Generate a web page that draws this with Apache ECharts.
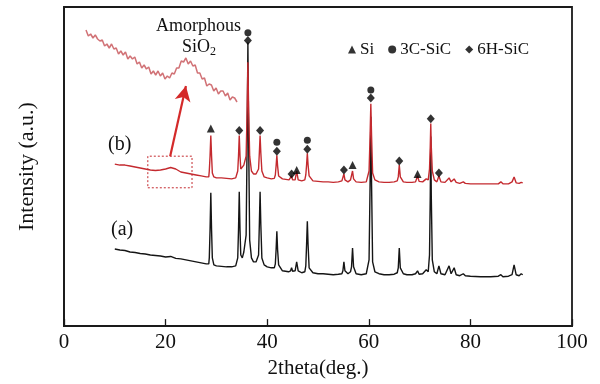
<!DOCTYPE html>
<html>
<head>
<meta charset="utf-8">
<script src="https://cdn.jsdelivr.net/npm/echarts@6/dist/echarts.min.js"></script>
<style>html,body{margin:0;padding:0;background:#fff}#c{width:600px;height:384px}</style>
</head>
<body>
<div id="c"></div>
<script>
// x ticks
const xTicks = [0, 20, 40, 60, 80, 100];

// Pattern (a) – black, [2theta, intensity]
const patternA = [
[10,81],[11,80],[12,79.5],[13,78],[14,77.5],[15,76.5],[16,76],[17,75],[18,74.5],[19,74],[20,73],[21,73.5],[22,71.5],[23,71],[24,70],[25,69],[26,68],[27,67],[28,66],[28.5,66],
[28.6,72],[28.75,100],[28.9,138],[29.05,100],[29.2,72],[29.5,65],
[30,64],[31,63.5],[32,63],[33,63],[33.8,64],
[34.2,72],[34.35,100],[34.5,139],[34.65,100],[34.8,75],
[35.1,72],[35.4,78],[35.6,76],
[35.85,95],[36.05,190],[36.2,290],[36.35,190],[36.55,90],
[36.9,72],[37.3,68],[37.8,68],
[38.3,75],[38.45,105],[38.6,139],[38.75,105],[38.95,72],
[39.4,65],[40,63],[40.8,62],[41.4,62],
[41.6,66],[41.75,80],[41.9,99],[42.05,80],[42.25,65],
[43,59],[44.2,58],
[44.6,59],[44.8,62],[45,58.5],
[45.5,59],[45.8,68],[46.1,59],
[46.8,57],[47.4,58],
[47.6,64],[47.75,85],[47.9,109],[48.05,85],[48.25,62],
[49,57],[50,56],[51,56],[52,55.5],[53,55],[54,55.5],[54.7,56],
[54.9,59],[55.1,68],[55.3,59],
[55.9,56],[56.4,58],
[56.6,63],[56.8,82],[57,63],
[57.5,56],[58.5,55],[59.5,56],
[60.05,70],[60.25,145],[60.4,215],[60.55,145],[60.75,68],
[61.2,58],[62,56],[63,55],[64,55],[65,55.5],[65.6,57],
[65.8,62],[66,82],[66.2,62],
[66.8,56],[67.5,55],[68.5,55],[69.2,56],
[69.6,59],[69.9,55.5],
[70.6,56],[71.3,60],[71.7,58],
[71.95,75],[72.1,135],[72.2,195],[72.3,135],[72.5,70],
[72.9,58],[73.4,56],
[73.8,64],[74.2,56],[75,55],
[75.8,64],[76.2,56],
[76.8,62],[77.2,55],
[77.9,54],[78.6,56],[79,54],[80,53.5],[82,53],[84,53],[85.5,53.5],[86,55],[86.4,53],[87.5,53.5],[88.2,55],
[88.6,65],[89,55],[89.6,54],[90,56],[90.3,55]
];

// Pattern (b) – red
const patternB = [
[10,167],[11,166],[12,166],[13,165],[14,164],[15,163],[16,162],[17,161],[18,160.5],[19,161],[20,162],[21,163.5],[22,162],[23,159],[24,158],[25,157],[26,156],[27,155],[28,154],[28.5,154],
[28.6,160],[28.75,175],[28.9,196],[29.05,175],[29.2,158],[29.5,154],
[30,153],[31,153],[32,152.5],[33,152],[33.8,153],
[34.2,160],[34.35,175],[34.5,196],[34.65,175],[34.8,162],
[35.1,160],[35.4,166],[35.6,164],
[35.85,175],[36.05,222],[36.2,270],[36.35,222],[36.55,175],
[36.9,160],[37.3,157],[37.8,157],
[38.3,162],[38.45,178],[38.6,196],[38.75,178],[38.95,160],
[39.4,154],[40,153],[40.8,152],[41.4,152.5],
[41.6,156],[41.75,165],[41.9,176],[42.05,165],[42.25,155],
[43,152],[44.3,151],
[44.6,151],[44.8,155],[45,151],
[45.5,151],[45.8,160],[46.1,151],
[46.8,150],[47.4,151],
[47.6,156],[47.75,166],[47.9,178],[48.05,166],[48.25,155],
[49,150],[50,149.5],[51,149],[52,149],[53,148.5],[54,149],[54.7,150],
[54.9,151],[55.1,157],[55.3,151],
[55.9,149],[56.4,151],
[56.6,153],[56.8,160],[57,152],
[57.5,149],[58.5,148.5],[59.5,149],
[60.05,160],[60.25,195],[60.4,228],[60.55,195],[60.75,158],
[61.2,151],[62,149],[63,148.5],[64,148.5],[65,149],[65.6,150],
[65.8,154],[66,166],[66.2,154],
[66.8,149],[67.5,148.5],[68.5,148.5],[69.2,149],
[69.6,155],[69.9,149.5],
[70.6,149],[71.3,152],[71.7,151],
[71.95,162],[72.1,185],[72.2,208],[72.3,185],[72.5,160],
[72.9,151],[73.4,149],
[73.8,155],[74.2,149],[75,148.5],
[75.8,153],[76.2,149],
[76.8,152],[77.2,148.5],
[77.9,147.5],[78.6,149],[79,147.5],[80,147],[82,147],[84,147],[85.5,147],[86,149],[86.4,147],[87.5,147],[88.2,149],
[88.6,154],[89,148],[89.6,147.5],[90,148.5],[90.3,148]
];

// Magnified inset of the amorphous SiO2 hump (b)
const insetX = [15.0,15.2,15.4,15.6,15.8,16.0,16.2,16.4,16.6,16.8,17.0,17.2,17.4,17.6,17.8,18.0,18.2,18.4,18.6,18.8,19.0,19.2,19.4,19.6,19.8,20.0,20.2,20.4,20.6,20.8,21.0,21.2,21.4,21.6,21.8,22.0,22.2,22.4,22.6,22.8,23.0,23.2,23.4,23.6,23.8,24.0,24.2,24.4,24.6,24.8,25.0,25.2,25.4,25.6,25.8,26.0,26.2,26.4,26.6,26.8,27.0,27.2,27.4,27.6,27.8,28.0];
const insetY = [80,74,76,72,75,71,69,70,64,66,62,66,61,62,56,59,55,58,51,54,51,53,46,48,42,45,41,43,36,39,35,39,34,37,31,34,32,37,36,42,42,49,48,52,46,49,44,45,37,37,31,32,24,26,25,19,22,16,19,19,14,17,10,13,12,8];

// Phase markers
const siPeaks = [[28.9,203],[45.8,161],[56.8,166],[69.6,157]];
const c3Peaks = [[36.2,300],[41.9,189],[47.9,191],[60.4,242]];
const h6Peaks = [[34.5,201],[36.2,292],[38.6,201],[41.9,180],[44.8,157],[47.9,182],[55.1,161],[60.4,234],[66.0,170],[72.2,213],[73.8,158]];

// annotation geometry (data coords)
const boxArea = [[16.5,143],[25.2,175]];
const arrowLine = [[20.9,175],[24.0,246]];

const FONT = '"Liberation Serif", "Times New Roman", serif';
const chart = echarts.init(document.getElementById('c'), null, {renderer:'canvas'});
const insetData = insetX.map((x,i)=>[x, insetY[i]]);

chart.setOption({
  animation:false,
  backgroundColor:'#fff',
  textStyle:{fontFamily:FONT},
  grid:[
    {left:64, right:28, top:7, bottom:54, show:true, borderColor:'#1a1a1a', borderWidth:1.8, backgroundColor:'transparent'},
    {left:86, top:28, width:151, height:78, show:false}
  ],
  legend:{
    data:['Si','3C-SiC','6H-SiC'],
    left:343, top:36, itemWidth:8, itemHeight:8, itemGap:14,
    textStyle:{fontFamily:FONT, fontSize:17, color:'#111', padding:[0,0,0,-1]}
  },
  xAxis:[
    {type:'value', gridIndex:0, min:0, max:100, interval:20,
     name:'2theta(deg.)', nameLocation:'middle', nameGap:24,
     nameTextStyle:{fontFamily:FONT, fontSize:21, color:'#111'},
     axisLine:{show:true, lineStyle:{color:'#1a1a1a', width:1.8}},
     axisTick:{show:true, inside:true, length:7, lineStyle:{color:'#1a1a1a', width:1.3}},
     axisLabel:{fontFamily:FONT, fontSize:21, color:'#111', margin:6,
       formatter:v=> xTicks.includes(v) ? String(v) : ''},
     splitLine:{show:false}},
    {type:'value', gridIndex:1, min:15, max:28, show:false}
  ],
  yAxis:[
    {type:'value', gridIndex:0, min:3, max:326,
     name:'Intensity (a.u.)', nameLocation:'middle', nameGap:26, nameRotate:90,
     nameTextStyle:{fontFamily:FONT, fontSize:22, color:'#111'},
     axisLine:{show:true, lineStyle:{color:'#1a1a1a', width:1.8}},
     axisTick:{show:false}, axisLabel:{show:false}, splitLine:{show:false}},
    {type:'value', gridIndex:1, min:4, max:82, show:false}
  ],
  series:[
    {name:'(a)', type:'line', data:patternA, showSymbol:false, symbol:'none',
     lineStyle:{color:'#151515', width:1.4}, z:2},
    {name:'(b)', type:'line', data:patternB, showSymbol:false, symbol:'none',
     lineStyle:{color:'#c42a2f', width:1.4}, z:3,
     markArea:{silent:true, itemStyle:{color:'rgba(0,0,0,0)', borderColor:'#c42a2f', borderWidth:1, borderType:[2,2]},
       data:[[{coord:boxArea[0]},{coord:boxArea[1]}]]},
     markLine:{silent:true, symbol:['none','arrow'], symbolSize:[12,15],
       lineStyle:{color:'#d42a2a', width:2.2, type:'solid'}, label:{show:false},
       data:[[{coord:arrowLine[0]},{coord:arrowLine[1]}]]}},
    {name:'inset', type:'line', xAxisIndex:1, yAxisIndex:1, data:insetData, showSymbol:false, symbol:'none',
     lineStyle:{color:'#c9595e', width:1.5, opacity:0.85}, z:2},
    {name:'Si', type:'scatter', data:siPeaks, symbol:'triangle', symbolSize:8, itemStyle:{color:'#000'}, z:5},
    {name:'3C-SiC', type:'scatter', data:c3Peaks, symbol:'circle', symbolSize:7, itemStyle:{color:'#000'}, z:5},
    {name:'6H-SiC', type:'scatter', data:h6Peaks, symbol:'diamond', symbolSize:[8,9], itemStyle:{color:'#000'}, z:5}
  ],
  graphic:[
    {type:'text', left:108, top:135, style:{text:'(b)', font:'20px '+FONT, fill:'#111'}},
    {type:'text', left:111, top:220, style:{text:'(a)', font:'20px '+FONT, fill:'#111'}},
    {type:'text', left:156, top:17, style:{text:'Amorphous', font:'18px '+FONT, fill:'#111'}},
    {type:'text', left:182, top:38, style:{
      text:'SiO{s|2}', font:'18px '+FONT, fill:'#111',
      rich:{s:{fontSize:12, fontFamily:FONT, fill:'#111', padding:[10,0,0,0]}}}}
  ]
});
</script>
</body>
</html>
